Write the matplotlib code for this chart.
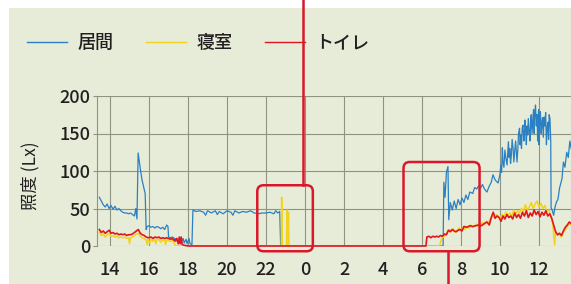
import matplotlib
matplotlib.use('Agg')
import matplotlib.pyplot as plt
from matplotlib.patches import FancyBboxPatch, Rectangle
from matplotlib.lines import Line2D

plt.rcParams['font.family'] = ['Noto Sans CJK JP', 'DejaVu Sans']
plt.rcParams['font.weight'] = 'medium'

# hours on a continuous clock: 24 = midnight, 36 = noon next day
living_t = [13.45, 13.55, 13.65, 13.75, 13.85, 13.95, 14.05, 14.15, 14.25, 14.35,
            14.45, 14.55, 14.65, 14.75, 14.85, 14.95, 15.05, 15.15, 15.25, 15.32,
            15.38, 15.44, 15.54, 15.64, 15.8, 15.85, 15.9, 16.0, 16.1, 16.2,
            16.3, 16.4, 16.5, 16.6, 16.7, 16.8, 16.9, 16.97, 17.0, 17.1,
            17.2, 17.3, 17.35, 17.45, 17.5, 17.6, 17.65, 17.75, 17.8, 17.9,
            17.95, 18.05, 18.1, 18.2, 18.25, 18.4, 18.6, 18.8, 18.9, 19.0,
            19.2, 19.4, 19.5, 19.6, 19.8, 20.0, 20.2, 20.3, 20.4, 20.6,
            20.8, 21.0, 21.2, 21.4, 21.6, 21.8, 22.0, 22.2, 22.4, 22.5,
            22.6, 22.7, 22.75, 31.08, 31.12, 31.18, 31.25, 31.33, 31.37, 31.45,
            31.55, 31.65, 31.75, 31.85, 31.95, 32.05, 32.15, 32.25, 32.35, 32.45,
            32.6, 32.7, 32.8, 32.9, 33.0, 33.1, 33.2, 33.33, 33.45, 33.55,
            33.64, 33.75, 33.9, 34.0, 34.04, 34.08, 34.12, 34.15, 34.2, 34.25,
            34.3, 34.36, 34.4, 34.43, 34.47, 34.5, 34.54, 34.58, 34.62, 34.67,
            34.71, 34.75, 34.8, 34.87, 34.91, 34.95, 35.0, 35.03, 35.07, 35.1,
            35.14, 35.18, 35.22, 35.25, 35.28, 35.32, 35.35, 35.38, 35.42, 35.45,
            35.5, 35.54, 35.57, 35.6, 35.64, 35.69, 35.72, 35.75, 35.78, 35.82,
            35.86, 35.9, 35.93, 35.95, 35.98, 36.0, 36.04, 36.07, 36.11, 36.15,
            36.18, 36.22, 36.26, 36.3, 36.34, 36.38, 36.42, 36.46, 36.49, 36.52,
            36.56, 36.6, 36.62, 36.67, 36.75, 36.82, 36.9, 36.97, 37.05, 37.18,
            37.25, 37.33, 37.42, 37.5, 37.58, 37.65]
living_v = [65, 60, 55, 52, 56, 50, 54, 49, 53, 48,
            50, 47, 45, 44, 44, 43, 44, 42, 40, 50,
            36, 124, 105, 88, 70, 22, 26, 27, 25, 26,
            24, 26, 25, 23, 25, 22, 28, 26, 12, 11,
            12, 10, 6, 10, 5, 9, 5, 10, 4, 9,
            3, 10, 3, 2, 48, 46, 47, 45, 41, 47,
            44, 47, 42, 46, 43, 47, 45, 41, 47, 44,
            46, 45, 47, 44, 43, 44, 44, 45, 43, 47,
            44, 46, 0, 0, 85, 65, 98, 106, 35, 58,
            48, 60, 50, 62, 55, 64, 58, 68, 62, 72,
            70, 78, 76, 80, 77, 82, 76, 72, 80, 85,
            95, 88, 84, 96, 108, 98, 131, 112, 105, 128,
            117, 108, 125, 139, 118, 130, 110, 121, 142, 130,
            112, 126, 140, 112, 128, 150, 157, 135, 148, 130,
            158, 161, 140, 145, 168, 155, 135, 160, 148, 170,
            152, 140, 165, 175, 150, 172, 182, 150, 176, 188,
            160, 175, 140, 168, 182, 135, 170, 179, 150, 165,
            171, 145, 172, 160, 178, 135, 158, 165, 142, 175,
            170, 140, 51, 48, 41, 52, 59, 62, 77, 90,
            112, 105, 125, 118, 140, 130]

bedroom_t = [13.45, 13.55, 13.65, 13.75, 13.85, 13.95, 14.05, 14.15, 14.25, 14.35,
             14.45, 14.55, 14.65, 14.75, 14.85, 14.95, 15.0, 15.05, 15.15, 15.25,
             15.35, 15.45, 15.55, 15.65, 15.75, 15.85, 15.9, 15.95, 16.05, 16.1,
             16.2, 16.3, 16.35, 16.4, 16.5, 16.6, 16.7, 16.8, 16.85, 16.9,
             17.0, 17.1, 17.2, 17.3, 17.4, 22.78, 22.8, 22.83, 23.05, 23.08,
             23.1, 23.12, 23.15, 23.18, 30.9, 31.0, 31.1, 31.2, 31.3, 31.4,
             31.5, 31.6, 31.7, 31.8, 31.9, 32.0, 32.1, 32.2, 32.3, 32.4,
             32.5, 32.6, 32.7, 32.8, 32.9, 33.0, 33.1, 33.2, 33.3, 33.4,
             33.5, 33.6, 33.7, 33.8, 33.9, 34.0, 34.1, 34.2, 34.3, 34.4,
             34.5, 34.6, 34.7, 34.8, 34.9, 35.0, 35.1, 35.2, 35.3, 35.4,
             35.5, 35.6, 35.7, 35.8, 35.9, 36.0, 36.1, 36.2, 36.3, 36.4,
             36.5, 36.6, 36.7, 36.8, 36.85, 36.95, 37.05, 37.15, 37.25, 37.35,
             37.45, 37.55, 37.65]
bedroom_v = [18, 14, 16, 12, 15, 17, 13, 14, 12, 13,
             11, 12, 11, 12, 10, 11, 3, 11, 12, 14,
             16, 17, 13, 11, 10, 8, 2, 9, 4, 9,
             6, 9, 3, 8, 9, 5, 8, 7, 2, 8,
             7, 6, 8, 3, 0, 0, 65, 0, 0, 48,
             0, 0, 45, 0, 0, 10, 12, 14, 18, 22,
             20, 23, 18, 21, 24, 20, 25, 22, 26, 24,
             28, 25, 27, 29, 26, 28, 31, 29, 33, 30,
             36, 40, 38, 42, 40, 36, 42, 39, 45, 41,
             44, 40, 48, 43, 47, 44, 50, 46, 55, 48,
             52, 58, 50, 56, 60, 52, 57, 50, 54, 46,
             48, 40, 30, 2, 20, 14, 16, 12, 18, 22,
             26, 30, 28]

toilet_t = [13.45, 13.55, 13.65, 13.75, 13.85, 13.95, 14.05, 14.15, 14.25, 14.35,
            14.45, 14.55, 14.65, 14.75, 14.85, 14.95, 15.05, 15.15, 15.25, 15.35,
            15.45, 15.55, 15.65, 15.75, 15.85, 15.95, 16.1, 16.2, 16.3, 16.4,
            16.5, 16.6, 16.7, 16.8, 16.9, 17.0, 17.1, 17.2, 17.3, 17.4,
            17.5, 17.55, 17.6, 17.65, 17.7, 17.8, 18.0, 30.2, 30.25, 30.35,
            30.45, 30.55, 30.65, 30.75, 30.85, 30.95, 31.05, 31.15, 31.25, 31.35,
            31.45, 31.55, 31.65, 31.75, 31.85, 31.95, 32.05, 32.15, 32.3, 32.45,
            32.6, 32.75, 32.9, 33.05, 33.2, 33.33, 33.45, 33.55, 33.65, 33.75,
            33.85, 33.95, 34.05, 34.15, 34.25, 34.35, 34.45, 34.55, 34.65, 34.75,
            34.85, 34.95, 35.05, 35.15, 35.25, 35.35, 35.45, 35.55, 35.65, 35.75,
            35.85, 35.95, 36.05, 36.15, 36.25, 36.35, 36.45, 36.55, 36.65, 36.75,
            36.85, 36.95, 37.05, 37.15, 37.25, 37.35, 37.45, 37.55, 37.65]
toilet_v = [22, 18, 20, 17, 19, 21, 17, 18, 16, 17,
            15, 16, 15, 16, 14, 15, 15, 16, 18, 20,
            22, 17, 15, 14, 12, 11, 12, 10, 12, 11,
            12, 10, 11, 10, 11, 10, 9, 10, 7, 10,
            3, 12, 3, 12, 2, 1, 0, 0, 12, 13,
            11, 13, 12, 13, 12, 14, 13, 16, 15, 21,
            19, 22, 20, 19, 21, 22, 20, 26, 25, 27,
            26, 27, 28, 27, 30, 32, 28, 38, 45, 37,
            40, 38, 33, 40, 36, 42, 38, 40, 36, 44,
            38, 42, 37, 45, 40, 47, 38, 44, 40, 48,
            42, 46, 39, 45, 41, 47, 40, 43, 37, 28,
            19, 15, 17, 14, 20, 25, 28, 32, 30]

hour_ticks = [14, 16, 18, 20, 22, 24, 26, 28, 30, 32, 34, 36]
hour_labels = ['14', '16', '18', '20', '22', '0', '2', '4', '6', '8', '10', '12']
lux_ticks = [0, 50, 100, 150, 200]
# highlighted periods (hours, lux range)
highlights = [(21.55, 24.4), (29.05, 32.95)]
highlight_lux = (-7, 81, 112)

bg = '#e6ecd7'
grid_c = '#8f9383'
text_c = '#231f20'
blue = '#2b80c3'
yellow = '#f2d21c'
red = '#e0151d'
box_red = '#d9182b'

fig = plt.figure(figsize=(5.71, 2.84), dpi=100, facecolor='white')
fig.patches.append(Rectangle((9 / 571, 0), 1, 1 - 8 / 284, transform=fig.transFigure,
                             facecolor=bg, edgecolor='none', zorder=-5))

ax = fig.add_axes([97 / 571, 1 - 246 / 284, 1 - 97 / 571, (246 - 96) / 284])
ax.set_facecolor(bg)

ax.plot(living_t, living_v, color=blue, lw=0.9, zorder=3)
ax.plot(bedroom_t, bedroom_v, color=yellow, lw=1.1, zorder=4)
ax.plot(toilet_t, toilet_v, color=red, lw=1.2, zorder=5, clip_on=False)

ax.set_xlim(13.33, 37.64)
ax.set_ylim(0, 200)
ax.set_xticks(hour_ticks, hour_labels)
ax.set_yticks(lux_ticks)
ax.grid(True, color=grid_c, lw=0.8)
ax.set_axisbelow(True)
for s in ['top', 'right', 'bottom']:
    ax.spines[s].set_visible(False)
ax.spines['left'].set_color(grid_c)
ax.spines['left'].set_linewidth(0.8)
ax.tick_params(axis='x', length=0, pad=11, labelsize=13, labelcolor=text_c)
ax.tick_params(axis='y', length=3, width=0.8, color=grid_c, pad=2,
               labelsize=13, labelcolor=text_c)
ax.set_ylabel('照度 (Lx)', fontsize=12.5, color=text_c)
ax.yaxis.set_label_coords(-0.122, 0.467)

# rounded highlight boxes, connector lines
aspect = (200 / 150) / (24.31 / 474)
for (x0, x1), top in zip(highlights, highlight_lux[1:]):
    ax.add_patch(FancyBboxPatch((x0, highlight_lux[0]), x1 - x0, top - highlight_lux[0],
                                boxstyle='round,pad=0,rounding_size=0.32',
                                mutation_aspect=aspect, fill=False, edgecolor=box_red,
                                lw=1.8, clip_on=False, zorder=6))
ax.plot([23.9, 23.9], [highlight_lux[1], 328], color=box_red, lw=1.8,
        clip_on=False, zorder=6)
ax.plot([31.35, 31.35], [highlight_lux[0], -52], color=box_red, lw=1.8,
        clip_on=False, zorder=6)

handles = [Line2D([], [], color=blue, lw=1),
           Line2D([], [], color=yellow, lw=1),
           Line2D([], [], color=red, lw=1)]
fig.legend(handles, ['居間', '寝室', 'トイレ'], loc='center left',
           bbox_to_anchor=(27 / 571, 1 - 43 / 284), ncol=3, frameon=False,
           fontsize=13, handlelength=2.2, handletextpad=0.6, columnspacing=1.8,
           borderpad=0, borderaxespad=0, labelcolor=text_c)

fig.savefig('out.png', dpi=100, facecolor='white')
